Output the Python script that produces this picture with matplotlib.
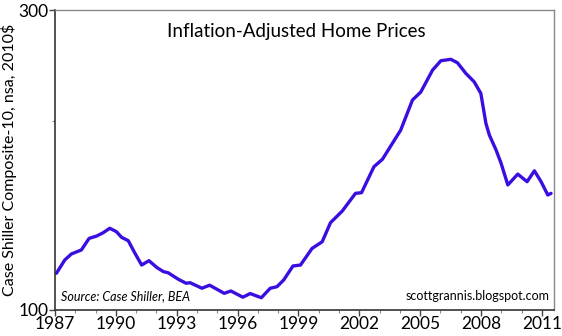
import matplotlib.pyplot as plt
from matplotlib.ticker import FixedLocator, NullFormatter

# Case Shiller Composite-10, inflation adjusted
years = [1987.07, 1987.48, 1987.81, 1988.30, 1988.68, 1989.05, 1989.37, 1989.70,
         1990.03, 1990.28, 1990.61, 1990.94, 1991.27, 1991.63, 1992.01, 1992.34,
         1992.58, 1993.08, 1993.46, 1993.66, 1994.24, 1994.62, 1995.34, 1995.67,
         1996.26, 1996.62, 1997.17, 1997.61, 1997.94, 1998.27, 1998.73, 1999.10,
         1999.67, 2000.17, 2000.58, 2001.16, 2001.81, 2002.11, 2002.72, 2003.14,
         2004.04, 2004.62, 2005.03, 2005.61, 2006.02, 2006.51, 2006.84, 2007.25,
         2007.66, 2007.99, 2008.24, 2008.41, 2008.74, 2008.99, 2009.32, 2009.81,
         2010.27, 2010.63, 2010.96, 2011.29, 2011.45]
prices = [114.4, 120.1, 122.8, 124.6, 130.0, 131.1, 132.7, 134.9,
          133.2, 130.5, 128.9, 123.1, 117.9, 119.8, 116.9, 115.1,
          114.6, 111.9, 110.3, 110.5, 108.3, 109.5, 106.3, 107.2,
          104.8, 106.2, 104.6, 108.3, 108.9, 111.6, 117.5, 117.9,
          125.3, 128.4, 137.7, 143.7, 153.3, 153.7, 169.0, 173.7,
          193.3, 215.8, 222.2, 240.8, 249.2, 250.5, 247.3, 237.9,
          230.7, 221.1, 198.1, 189.8, 179.7, 171.1, 158.1, 164.5,
          160.0, 166.5, 160.0, 152.4, 153.3]

xticks = [1987, 1990, 1993, 1996, 1999, 2002, 2005, 2008, 2011]
yticks = [100, 300]

plt.rcParams['font.family'] = ['Lato', 'DejaVu Sans']

fig = plt.figure(figsize=(5.62, 3.36), dpi=100)
ax = fig.add_axes([0.0979, 0.0774, 0.888, 0.8926])

ax.plot(years, prices, color='#3a0ee0', lw=2.4, solid_capstyle='round')

ax.set_yscale('log')
ax.set_ylim(100, 300)
ax.set_xlim(1987, 2011.6)

ax.yaxis.set_major_locator(FixedLocator(yticks))
ax.yaxis.set_minor_locator(FixedLocator([200]))
ax.yaxis.set_major_formatter(plt.FuncFormatter(lambda v, p: f"{v:.0f}"))
ax.yaxis.set_minor_formatter(NullFormatter())
ax.set_xticks(xticks)
ax.set_xticks(range(1987, 2012), minor=True)

ax.tick_params(axis='both', which='major', labelsize=12.5, length=4, width=1,
               color='#444444', pad=0.5)
ax.tick_params(axis='both', which='minor', length=2.5, width=0.8, color='#888888')

for s in ['left', 'bottom']:
    ax.spines[s].set_color('#333333')
    ax.spines[s].set_linewidth(1.2)
for s in ['top', 'right']:
    ax.spines[s].set_color('#888888')
    ax.spines[s].set_linewidth(1.0)

ax.set_ylabel('Case Shiller Composite-10, nsa, 2010$', fontsize=11.5, labelpad=1)

ax.text(0.483, 0.93, 'Inflation-Adjusted Home Prices', transform=ax.transAxes,
        ha='center', va='center', fontsize=13.5)
ax.text(0.012, 0.025, 'Source: Case Shiller, BEA', transform=ax.transAxes,
        ha='left', va='bottom', fontsize=9, style='italic')
ax.text(0.99, 0.025, 'scottgrannis.blogspot.com', transform=ax.transAxes,
        ha='right', va='bottom', fontsize=9)

fig.savefig('out.png', dpi=100)
